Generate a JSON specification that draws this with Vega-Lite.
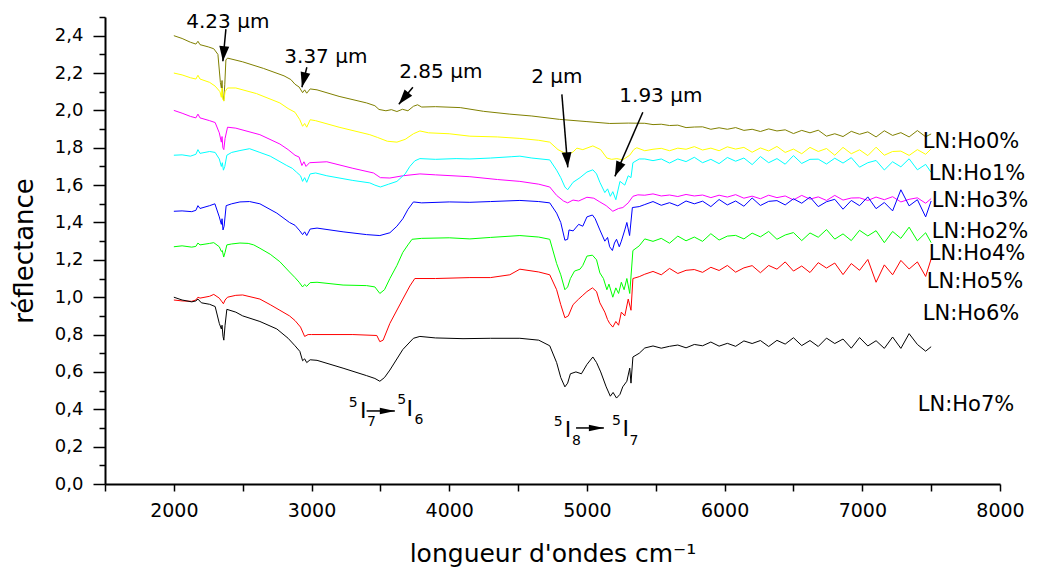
{
"$schema":"https://vega.github.io/schema/vega-lite/v6.json",
"width":895,"height":467,
"autosize":{"type":"none"},
"padding":{"left":105,"top":17,"right":46,"bottom":87},
"background":"white",
"config":{"view":{"stroke":null},"font":"DejaVu Sans","text":{"font":"DejaVu Sans","color":"black"},"axis":{"labelOverlap":false}},
"resolve":{"axis":{"y":"independent"}},
"datasets":{
"curves":[
{"c":"Ho0%","x":2000,"y":2.400},{"c":"Ho0%","x":2060,"y":2.385},{"c":"Ho0%","x":2120,"y":2.365},{"c":"Ho0%","x":2160,"y":2.355},{"c":"Ho0%","x":2175,"y":2.370},{"c":"Ho0%","x":2190,"y":2.352},{"c":"Ho0%","x":2250,"y":2.340},{"c":"Ho0%","x":2290,"y":2.330},{"c":"Ho0%","x":2320,"y":2.300},{"c":"Ho0%","x":2338,"y":2.150},{"c":"Ho0%","x":2345,"y":2.120},{"c":"Ho0%","x":2350,"y":2.160},{"c":"Ho0%","x":2355,"y":2.080},{"c":"Ho0%","x":2362,"y":2.050},{"c":"Ho0%","x":2370,"y":2.140},{"c":"Ho0%","x":2378,"y":2.270},{"c":"Ho0%","x":2390,"y":2.280},{"c":"Ho0%","x":2500,"y":2.260},{"c":"Ho0%","x":2650,"y":2.225},{"c":"Ho0%","x":2800,"y":2.185},{"c":"Ho0%","x":2850,"y":2.165},{"c":"Ho0%","x":2880,"y":2.140},{"c":"Ho0%","x":2910,"y":2.125},{"c":"Ho0%","x":2935,"y":2.095},{"c":"Ho0%","x":2950,"y":2.110},{"c":"Ho0%","x":2965,"y":2.092},{"c":"Ho0%","x":2990,"y":2.115},{"c":"Ho0%","x":3040,"y":2.110},{"c":"Ho0%","x":3200,"y":2.075},{"c":"Ho0%","x":3400,"y":2.040},{"c":"Ho0%","x":3460,"y":2.025},{"c":"Ho0%","x":3490,"y":2.005},{"c":"Ho0%","x":3540,"y":1.998},{"c":"Ho0%","x":3580,"y":2.004},{"c":"Ho0%","x":3620,"y":1.994},{"c":"Ho0%","x":3660,"y":2.006},{"c":"Ho0%","x":3700,"y":1.998},{"c":"Ho0%","x":3740,"y":2.022},{"c":"Ho0%","x":3770,"y":2.030},{"c":"Ho0%","x":3800,"y":2.018},{"c":"Ho0%","x":3900,"y":2.020},{"c":"Ho0%","x":4080,"y":2.015},{"c":"Ho0%","x":4250,"y":1.995},{"c":"Ho0%","x":4440,"y":1.980},{"c":"Ho0%","x":4600,"y":1.970},{"c":"Ho0%","x":4800,"y":1.952},{"c":"Ho0%","x":5000,"y":1.940},{"c":"Ho0%","x":5166,"y":1.930},{"c":"Ho0%","x":5300,"y":1.932},
{"c":"Ho0%","x":5420,"y":1.931},{"c":"Ho0%","x":5480,"y":1.924},{"c":"Ho0%","x":5540,"y":1.926},{"c":"Ho0%","x":5600,"y":1.919},{"c":"Ho0%","x":5660,"y":1.921},{"c":"Ho0%","x":5720,"y":1.908},{"c":"Ho0%","x":5780,"y":1.911},{"c":"Ho0%","x":5840,"y":1.912},{"c":"Ho0%","x":5900,"y":1.899},{"c":"Ho0%","x":5960,"y":1.907},{"c":"Ho0%","x":6020,"y":1.899},{"c":"Ho0%","x":6080,"y":1.908},{"c":"Ho0%","x":6140,"y":1.893},{"c":"Ho0%","x":6200,"y":1.899},{"c":"Ho0%","x":6260,"y":1.887},{"c":"Ho0%","x":6320,"y":1.901},{"c":"Ho0%","x":6380,"y":1.890},{"c":"Ho0%","x":6440,"y":1.896},{"c":"Ho0%","x":6500,"y":1.876},{"c":"Ho0%","x":6560,"y":1.893},{"c":"Ho0%","x":6620,"y":1.880},{"c":"Ho0%","x":6680,"y":1.894},{"c":"Ho0%","x":6740,"y":1.862},{"c":"Ho0%","x":6800,"y":1.875},{"c":"Ho0%","x":6860,"y":1.860},{"c":"Ho0%","x":6920,"y":1.888},{"c":"Ho0%","x":6980,"y":1.872},{"c":"Ho0%","x":7040,"y":1.885},{"c":"Ho0%","x":7100,"y":1.858},{"c":"Ho0%","x":7160,"y":1.891},{"c":"Ho0%","x":7220,"y":1.866},{"c":"Ho0%","x":7280,"y":1.881},{"c":"Ho0%","x":7340,"y":1.858},{"c":"Ho0%","x":7400,"y":1.892},{"c":"Ho0%","x":7460,"y":1.859},{"c":"Ho0%","x":7500,"y":1.874},
{"c":"Ho1%","x":2000,"y":2.200},{"c":"Ho1%","x":2060,"y":2.190},{"c":"Ho1%","x":2120,"y":2.175},{"c":"Ho1%","x":2160,"y":2.168},{"c":"Ho1%","x":2175,"y":2.188},{"c":"Ho1%","x":2190,"y":2.168},{"c":"Ho1%","x":2260,"y":2.150},{"c":"Ho1%","x":2300,"y":2.130},{"c":"Ho1%","x":2335,"y":2.100},{"c":"Ho1%","x":2345,"y":2.070},{"c":"Ho1%","x":2350,"y":2.120},{"c":"Ho1%","x":2356,"y":2.060},{"c":"Ho1%","x":2363,"y":2.050},{"c":"Ho1%","x":2372,"y":2.100},{"c":"Ho1%","x":2390,"y":2.120},{"c":"Ho1%","x":2450,"y":2.120},{"c":"Ho1%","x":2600,"y":2.090},{"c":"Ho1%","x":2770,"y":2.040},{"c":"Ho1%","x":2830,"y":2.010},{"c":"Ho1%","x":2880,"y":1.990},{"c":"Ho1%","x":2915,"y":1.950},{"c":"Ho1%","x":2935,"y":1.915},{"c":"Ho1%","x":2950,"y":1.930},{"c":"Ho1%","x":2965,"y":1.910},{"c":"Ho1%","x":2990,"y":1.950},{"c":"Ho1%","x":3030,"y":1.945},{"c":"Ho1%","x":3200,"y":1.910},{"c":"Ho1%","x":3423,"y":1.870},{"c":"Ho1%","x":3480,"y":1.855},{"c":"Ho1%","x":3550,"y":1.835},{"c":"Ho1%","x":3620,"y":1.830},{"c":"Ho1%","x":3680,"y":1.845},{"c":"Ho1%","x":3740,"y":1.875},{"c":"Ho1%","x":3787,"y":1.890},{"c":"Ho1%","x":3850,"y":1.880},{"c":"Ho1%","x":4000,"y":1.875},{"c":"Ho1%","x":4150,"y":1.862},{"c":"Ho1%","x":4350,"y":1.858},{"c":"Ho1%","x":4513,"y":1.850},{"c":"Ho1%","x":4650,"y":1.840},{"c":"Ho1%","x":4730,"y":1.830},{"c":"Ho1%","x":4790,"y":1.790},{"c":"Ho1%","x":4830,"y":1.775},{"c":"Ho1%","x":4870,"y":1.765},{"c":"Ho1%","x":4900,"y":1.778},{"c":"Ho1%","x":4927,"y":1.798},{"c":"Ho1%","x":4970,"y":1.790},{"c":"Ho1%","x":5043,"y":1.810},{"c":"Ho1%","x":5100,"y":1.790},{"c":"Ho1%","x":5145,"y":1.745},{"c":"Ho1%","x":5180,"y":1.738},{"c":"Ho1%","x":5217,"y":1.742},{"c":"Ho1%","x":5260,"y":1.735},{"c":"Ho1%","x":5311,"y":1.760},{"c":"Ho1%","x":5340,"y":1.790},{"c":"Ho1%","x":5362,"y":1.800},
{"c":"Ho1%","x":5420,"y":1.784},{"c":"Ho1%","x":5480,"y":1.792},{"c":"Ho1%","x":5540,"y":1.797},{"c":"Ho1%","x":5600,"y":1.784},{"c":"Ho1%","x":5660,"y":1.798},{"c":"Ho1%","x":5720,"y":1.792},{"c":"Ho1%","x":5780,"y":1.806},{"c":"Ho1%","x":5840,"y":1.788},{"c":"Ho1%","x":5900,"y":1.798},{"c":"Ho1%","x":5960,"y":1.784},{"c":"Ho1%","x":6020,"y":1.805},{"c":"Ho1%","x":6080,"y":1.793},{"c":"Ho1%","x":6140,"y":1.802},{"c":"Ho1%","x":6200,"y":1.776},{"c":"Ho1%","x":6260,"y":1.799},{"c":"Ho1%","x":6320,"y":1.783},{"c":"Ho1%","x":6380,"y":1.807},{"c":"Ho1%","x":6440,"y":1.775},{"c":"Ho1%","x":6500,"y":1.793},{"c":"Ho1%","x":6560,"y":1.768},{"c":"Ho1%","x":6620,"y":1.802},{"c":"Ho1%","x":6680,"y":1.780},{"c":"Ho1%","x":6740,"y":1.796},{"c":"Ho1%","x":6800,"y":1.760},{"c":"Ho1%","x":6860,"y":1.802},{"c":"Ho1%","x":6920,"y":1.768},{"c":"Ho1%","x":6980,"y":1.789},{"c":"Ho1%","x":7040,"y":1.758},{"c":"Ho1%","x":7100,"y":1.803},{"c":"Ho1%","x":7160,"y":1.760},{"c":"Ho1%","x":7220,"y":1.780},{"c":"Ho1%","x":7280,"y":1.782},{"c":"Ho1%","x":7340,"y":1.759},{"c":"Ho1%","x":7400,"y":1.790},{"c":"Ho1%","x":7460,"y":1.765},{"c":"Ho1%","x":7500,"y":1.794},
{"c":"Ho2%","x":2000,"y":2.000},{"c":"Ho2%","x":2060,"y":1.985},{"c":"Ho2%","x":2120,"y":1.968},{"c":"Ho2%","x":2160,"y":1.960},{"c":"Ho2%","x":2175,"y":1.980},{"c":"Ho2%","x":2190,"y":1.960},{"c":"Ho2%","x":2260,"y":1.945},{"c":"Ho2%","x":2300,"y":1.935},{"c":"Ho2%","x":2330,"y":1.880},{"c":"Ho2%","x":2345,"y":1.830},{"c":"Ho2%","x":2350,"y":1.860},{"c":"Ho2%","x":2356,"y":1.800},{"c":"Ho2%","x":2363,"y":1.790},{"c":"Ho2%","x":2372,"y":1.850},{"c":"Ho2%","x":2390,"y":1.910},{"c":"Ho2%","x":2450,"y":1.905},{"c":"Ho2%","x":2625,"y":1.870},{"c":"Ho2%","x":2770,"y":1.820},{"c":"Ho2%","x":2830,"y":1.790},{"c":"Ho2%","x":2880,"y":1.760},{"c":"Ho2%","x":2910,"y":1.750},{"c":"Ho2%","x":2930,"y":1.705},{"c":"Ho2%","x":2945,"y":1.725},{"c":"Ho2%","x":2960,"y":1.700},{"c":"Ho2%","x":2985,"y":1.720},{"c":"Ho2%","x":3111,"y":1.725},{"c":"Ho2%","x":3300,"y":1.690},{"c":"Ho2%","x":3450,"y":1.665},{"c":"Ho2%","x":3500,"y":1.640},{"c":"Ho2%","x":3569,"y":1.638},{"c":"Ho2%","x":3663,"y":1.650},{"c":"Ho2%","x":3787,"y":1.660},{"c":"Ho2%","x":3900,"y":1.655},{"c":"Ho2%","x":4150,"y":1.645},{"c":"Ho2%","x":4350,"y":1.630},{"c":"Ho2%","x":4513,"y":1.620},{"c":"Ho2%","x":4650,"y":1.605},{"c":"Ho2%","x":4730,"y":1.590},{"c":"Ho2%","x":4780,"y":1.545},{"c":"Ho2%","x":4830,"y":1.515},{"c":"Ho2%","x":4860,"y":1.505},{"c":"Ho2%","x":4899,"y":1.520},{"c":"Ho2%","x":4940,"y":1.515},{"c":"Ho2%","x":5000,"y":1.535},{"c":"Ho2%","x":5050,"y":1.530},{"c":"Ho2%","x":5094,"y":1.510},{"c":"Ho2%","x":5140,"y":1.490},{"c":"Ho2%","x":5188,"y":1.460},{"c":"Ho2%","x":5230,"y":1.475},{"c":"Ho2%","x":5261,"y":1.480},{"c":"Ho2%","x":5300,"y":1.505},{"c":"Ho2%","x":5334,"y":1.540},{"c":"Ho2%","x":5370,"y":1.548},
{"c":"Ho2%","x":5420,"y":1.546},{"c":"Ho2%","x":5480,"y":1.553},{"c":"Ho2%","x":5540,"y":1.542},{"c":"Ho2%","x":5600,"y":1.547},{"c":"Ho2%","x":5660,"y":1.539},{"c":"Ho2%","x":5720,"y":1.550},{"c":"Ho2%","x":5780,"y":1.542},{"c":"Ho2%","x":5840,"y":1.547},{"c":"Ho2%","x":5900,"y":1.533},{"c":"Ho2%","x":5960,"y":1.546},{"c":"Ho2%","x":6020,"y":1.536},{"c":"Ho2%","x":6080,"y":1.549},{"c":"Ho2%","x":6140,"y":1.530},{"c":"Ho2%","x":6200,"y":1.541},{"c":"Ho2%","x":6260,"y":1.527},{"c":"Ho2%","x":6320,"y":1.546},{"c":"Ho2%","x":6380,"y":1.533},{"c":"Ho2%","x":6440,"y":1.542},{"c":"Ho2%","x":6500,"y":1.521},{"c":"Ho2%","x":6560,"y":1.545},{"c":"Ho2%","x":6620,"y":1.525},{"c":"Ho2%","x":6680,"y":1.537},{"c":"Ho2%","x":6740,"y":1.518},{"c":"Ho2%","x":6800,"y":1.545},{"c":"Ho2%","x":6860,"y":1.520},{"c":"Ho2%","x":6920,"y":1.531},{"c":"Ho2%","x":6980,"y":1.532},{"c":"Ho2%","x":7040,"y":1.518},{"c":"Ho2%","x":7100,"y":1.536},{"c":"Ho2%","x":7160,"y":1.522},{"c":"Ho2%","x":7220,"y":1.538},{"c":"Ho2%","x":7280,"y":1.510},{"c":"Ho2%","x":7340,"y":1.524},{"c":"Ho2%","x":7400,"y":1.532},{"c":"Ho2%","x":7460,"y":1.503},{"c":"Ho2%","x":7500,"y":1.528},
{"c":"Ho3%","x":2000,"y":1.760},{"c":"Ho3%","x":2060,"y":1.762},{"c":"Ho3%","x":2120,"y":1.755},{"c":"Ho3%","x":2160,"y":1.765},{"c":"Ho3%","x":2175,"y":1.790},{"c":"Ho3%","x":2190,"y":1.770},{"c":"Ho3%","x":2260,"y":1.780},{"c":"Ho3%","x":2300,"y":1.775},{"c":"Ho3%","x":2330,"y":1.740},{"c":"Ho3%","x":2345,"y":1.700},{"c":"Ho3%","x":2352,"y":1.720},{"c":"Ho3%","x":2360,"y":1.680},{"c":"Ho3%","x":2370,"y":1.700},{"c":"Ho3%","x":2385,"y":1.760},{"c":"Ho3%","x":2420,"y":1.775},{"c":"Ho3%","x":2480,"y":1.785},{"c":"Ho3%","x":2550,"y":1.795},{"c":"Ho3%","x":2625,"y":1.775},{"c":"Ho3%","x":2700,"y":1.755},{"c":"Ho3%","x":2820,"y":1.705},{"c":"Ho3%","x":2860,"y":1.690},{"c":"Ho3%","x":2890,"y":1.670},{"c":"Ho3%","x":2920,"y":1.650},{"c":"Ho3%","x":2935,"y":1.620},{"c":"Ho3%","x":2950,"y":1.640},{"c":"Ho3%","x":2965,"y":1.615},{"c":"Ho3%","x":2990,"y":1.660},{"c":"Ho3%","x":3030,"y":1.665},{"c":"Ho3%","x":3111,"y":1.650},{"c":"Ho3%","x":3300,"y":1.625},{"c":"Ho3%","x":3423,"y":1.612},{"c":"Ho3%","x":3460,"y":1.600},{"c":"Ho3%","x":3500,"y":1.590},{"c":"Ho3%","x":3560,"y":1.605},{"c":"Ho3%","x":3620,"y":1.620},{"c":"Ho3%","x":3680,"y":1.660},{"c":"Ho3%","x":3714,"y":1.700},{"c":"Ho3%","x":3750,"y":1.730},{"c":"Ho3%","x":3787,"y":1.742},{"c":"Ho3%","x":3900,"y":1.738},{"c":"Ho3%","x":4050,"y":1.742},{"c":"Ho3%","x":4150,"y":1.740},{"c":"Ho3%","x":4300,"y":1.745},{"c":"Ho3%","x":4450,"y":1.752},{"c":"Ho3%","x":4513,"y":1.755},{"c":"Ho3%","x":4600,"y":1.745},{"c":"Ho3%","x":4730,"y":1.735},{"c":"Ho3%","x":4780,"y":1.680},{"c":"Ho3%","x":4810,"y":1.640},{"c":"Ho3%","x":4840,"y":1.590},{"c":"Ho3%","x":4860,"y":1.575},{"c":"Ho3%","x":4899,"y":1.615},{"c":"Ho3%","x":4950,"y":1.640},{"c":"Ho3%","x":5000,"y":1.670},{"c":"Ho3%","x":5043,"y":1.682},{"c":"Ho3%","x":5070,"y":1.660},{"c":"Ho3%","x":5094,"y":1.615},{"c":"Ho3%","x":5130,"y":1.560},{"c":"Ho3%","x":5150,"y":1.580},{"c":"Ho3%","x":5170,"y":1.540},{"c":"Ho3%","x":5188,"y":1.565},{"c":"Ho3%","x":5210,"y":1.522},{"c":"Ho3%","x":5240,"y":1.620},{"c":"Ho3%","x":5275,"y":1.600},{"c":"Ho3%","x":5300,"y":1.650},{"c":"Ho3%","x":5320,"y":1.640},{"c":"Ho3%","x":5334,"y":1.720},{"c":"Ho3%","x":5380,"y":1.740},
{"c":"Ho3%","x":5420,"y":1.740},{"c":"Ho3%","x":5480,"y":1.731},{"c":"Ho3%","x":5540,"y":1.740},{"c":"Ho3%","x":5600,"y":1.718},{"c":"Ho3%","x":5660,"y":1.740},{"c":"Ho3%","x":5720,"y":1.726},{"c":"Ho3%","x":5780,"y":1.749},{"c":"Ho3%","x":5840,"y":1.720},{"c":"Ho3%","x":5900,"y":1.738},{"c":"Ho3%","x":5960,"y":1.715},{"c":"Ho3%","x":6020,"y":1.748},{"c":"Ho3%","x":6080,"y":1.728},{"c":"Ho3%","x":6140,"y":1.745},{"c":"Ho3%","x":6200,"y":1.710},{"c":"Ho3%","x":6260,"y":1.753},{"c":"Ho3%","x":6320,"y":1.720},{"c":"Ho3%","x":6380,"y":1.742},{"c":"Ho3%","x":6440,"y":1.712},{"c":"Ho3%","x":6500,"y":1.758},{"c":"Ho3%","x":6560,"y":1.716},{"c":"Ho3%","x":6620,"y":1.738},{"c":"Ho3%","x":6680,"y":1.739},{"c":"Ho3%","x":6740,"y":1.713},{"c":"Ho3%","x":6800,"y":1.744},{"c":"Ho3%","x":6860,"y":1.718},{"c":"Ho3%","x":6920,"y":1.747},{"c":"Ho3%","x":6980,"y":1.696},{"c":"Ho3%","x":7040,"y":1.720},{"c":"Ho3%","x":7100,"y":1.732},{"c":"Ho3%","x":7160,"y":1.681},{"c":"Ho3%","x":7220,"y":1.725},{"c":"Ho3%","x":7280,"y":1.698},{"c":"Ho3%","x":7340,"y":1.741},{"c":"Ho3%","x":7400,"y":1.682},{"c":"Ho3%","x":7460,"y":1.711},{"c":"Ho3%","x":7500,"y":1.668},
{"c":"Ho4%","x":2000,"y":1.460},{"c":"Ho4%","x":2060,"y":1.462},{"c":"Ho4%","x":2130,"y":1.458},{"c":"Ho4%","x":2160,"y":1.465},{"c":"Ho4%","x":2175,"y":1.490},{"c":"Ho4%","x":2190,"y":1.475},{"c":"Ho4%","x":2260,"y":1.490},{"c":"Ho4%","x":2298,"y":1.500},{"c":"Ho4%","x":2330,"y":1.430},{"c":"Ho4%","x":2345,"y":1.390},{"c":"Ho4%","x":2350,"y":1.420},{"c":"Ho4%","x":2357,"y":1.360},{"c":"Ho4%","x":2365,"y":1.380},{"c":"Ho4%","x":2380,"y":1.490},{"c":"Ho4%","x":2420,"y":1.500},{"c":"Ho4%","x":2480,"y":1.510},{"c":"Ho4%","x":2550,"y":1.512},{"c":"Ho4%","x":2625,"y":1.500},{"c":"Ho4%","x":2748,"y":1.450},{"c":"Ho4%","x":2840,"y":1.400},{"c":"Ho4%","x":2880,"y":1.385},{"c":"Ho4%","x":2915,"y":1.355},{"c":"Ho4%","x":2935,"y":1.335},{"c":"Ho4%","x":2950,"y":1.350},{"c":"Ho4%","x":2965,"y":1.330},{"c":"Ho4%","x":2990,"y":1.365},{"c":"Ho4%","x":3040,"y":1.370},{"c":"Ho4%","x":3229,"y":1.350},{"c":"Ho4%","x":3400,"y":1.335},{"c":"Ho4%","x":3496,"y":1.330},{"c":"Ho4%","x":3569,"y":1.345},{"c":"Ho4%","x":3620,"y":1.380},{"c":"Ho4%","x":3663,"y":1.420},{"c":"Ho4%","x":3700,"y":1.470},{"c":"Ho4%","x":3740,"y":1.510},{"c":"Ho4%","x":3800,"y":1.505},{"c":"Ho4%","x":4000,"y":1.510},{"c":"Ho4%","x":4150,"y":1.508},{"c":"Ho4%","x":4300,"y":1.512},{"c":"Ho4%","x":4513,"y":1.518},{"c":"Ho4%","x":4650,"y":1.512},{"c":"Ho4%","x":4730,"y":1.505},{"c":"Ho4%","x":4780,"y":1.450},{"c":"Ho4%","x":4810,"y":1.400},{"c":"Ho4%","x":4840,"y":1.305},{"c":"Ho4%","x":4860,"y":1.310},{"c":"Ho4%","x":4870,"y":1.360},{"c":"Ho4%","x":4900,"y":1.355},{"c":"Ho4%","x":4940,"y":1.390},{"c":"Ho4%","x":4970,"y":1.380},{"c":"Ho4%","x":5000,"y":1.430},{"c":"Ho4%","x":5040,"y":1.440},{"c":"Ho4%","x":5060,"y":1.420},{"c":"Ho4%","x":5094,"y":1.360},{"c":"Ho4%","x":5130,"y":1.300},{"c":"Ho4%","x":5150,"y":1.320},{"c":"Ho4%","x":5165,"y":1.270},{"c":"Ho4%","x":5185,"y":1.250},{"c":"Ho4%","x":5200,"y":1.290},{"c":"Ho4%","x":5215,"y":1.310},{"c":"Ho4%","x":5235,"y":1.270},{"c":"Ho4%","x":5250,"y":1.300},{"c":"Ho4%","x":5275,"y":1.360},{"c":"Ho4%","x":5290,"y":1.400},{"c":"Ho4%","x":5310,"y":1.330},{"c":"Ho4%","x":5330,"y":1.480},{"c":"Ho4%","x":5380,"y":1.485},
{"c":"Ho4%","x":5420,"y":1.496},{"c":"Ho4%","x":5480,"y":1.512},{"c":"Ho4%","x":5540,"y":1.492},{"c":"Ho4%","x":5600,"y":1.506},{"c":"Ho4%","x":5660,"y":1.489},{"c":"Ho4%","x":5720,"y":1.515},{"c":"Ho4%","x":5780,"y":1.500},{"c":"Ho4%","x":5840,"y":1.514},{"c":"Ho4%","x":5900,"y":1.485},{"c":"Ho4%","x":5960,"y":1.523},{"c":"Ho4%","x":6020,"y":1.494},{"c":"Ho4%","x":6080,"y":1.515},{"c":"Ho4%","x":6140,"y":1.487},{"c":"Ho4%","x":6200,"y":1.531},{"c":"Ho4%","x":6260,"y":1.491},{"c":"Ho4%","x":6320,"y":1.513},{"c":"Ho4%","x":6380,"y":1.517},{"c":"Ho4%","x":6440,"y":1.494},{"c":"Ho4%","x":6500,"y":1.527},{"c":"Ho4%","x":6560,"y":1.503},{"c":"Ho4%","x":6620,"y":1.536},{"c":"Ho4%","x":6680,"y":1.485},{"c":"Ho4%","x":6740,"y":1.511},{"c":"Ho4%","x":6800,"y":1.524},{"c":"Ho4%","x":6860,"y":1.471},{"c":"Ho4%","x":6920,"y":1.518},{"c":"Ho4%","x":6980,"y":1.490},{"c":"Ho4%","x":7040,"y":1.537},{"c":"Ho4%","x":7100,"y":1.474},{"c":"Ho4%","x":7160,"y":1.507},{"c":"Ho4%","x":7220,"y":1.462},{"c":"Ho4%","x":7280,"y":1.575},{"c":"Ho4%","x":7340,"y":1.489},{"c":"Ho4%","x":7400,"y":1.522},{"c":"Ho4%","x":7460,"y":1.430},{"c":"Ho4%","x":7500,"y":1.515},
{"c":"Ho5%","x":2000,"y":1.270},{"c":"Ho5%","x":2060,"y":1.275},{"c":"Ho5%","x":2130,"y":1.268},{"c":"Ho5%","x":2160,"y":1.272},{"c":"Ho5%","x":2175,"y":1.290},{"c":"Ho5%","x":2190,"y":1.280},{"c":"Ho5%","x":2260,"y":1.288},{"c":"Ho5%","x":2290,"y":1.292},{"c":"Ho5%","x":2330,"y":1.270},{"c":"Ho5%","x":2345,"y":1.245},{"c":"Ho5%","x":2352,"y":1.250},{"c":"Ho5%","x":2362,"y":1.215},{"c":"Ho5%","x":2372,"y":1.240},{"c":"Ho5%","x":2385,"y":1.280},{"c":"Ho5%","x":2420,"y":1.285},{"c":"Ho5%","x":2480,"y":1.290},{"c":"Ho5%","x":2540,"y":1.288},{"c":"Ho5%","x":2580,"y":1.280},{"c":"Ho5%","x":2625,"y":1.262},{"c":"Ho5%","x":2700,"y":1.230},{"c":"Ho5%","x":2770,"y":1.190},{"c":"Ho5%","x":2840,"y":1.135},{"c":"Ho5%","x":2880,"y":1.105},{"c":"Ho5%","x":2910,"y":1.080},{"c":"Ho5%","x":2935,"y":1.055},{"c":"Ho5%","x":2950,"y":1.068},{"c":"Ho5%","x":2965,"y":1.058},{"c":"Ho5%","x":2990,"y":1.078},{"c":"Ho5%","x":3040,"y":1.080},{"c":"Ho5%","x":3229,"y":1.065},{"c":"Ho5%","x":3400,"y":1.062},{"c":"Ho5%","x":3460,"y":1.055},{"c":"Ho5%","x":3496,"y":1.020},{"c":"Ho5%","x":3530,"y":1.040},{"c":"Ho5%","x":3569,"y":1.100},{"c":"Ho5%","x":3620,"y":1.170},{"c":"Ho5%","x":3663,"y":1.240},{"c":"Ho5%","x":3700,"y":1.280},{"c":"Ho5%","x":3730,"y":1.310},{"c":"Ho5%","x":3800,"y":1.315},{"c":"Ho5%","x":4000,"y":1.318},{"c":"Ho5%","x":4150,"y":1.312},{"c":"Ho5%","x":4300,"y":1.320},{"c":"Ho5%","x":4513,"y":1.330},{"c":"Ho5%","x":4650,"y":1.322},{"c":"Ho5%","x":4730,"y":1.310},{"c":"Ho5%","x":4780,"y":1.180},{"c":"Ho5%","x":4810,"y":1.120},{"c":"Ho5%","x":4840,"y":1.040},{"c":"Ho5%","x":4860,"y":1.055},{"c":"Ho5%","x":4880,"y":1.100},{"c":"Ho5%","x":4910,"y":1.140},{"c":"Ho5%","x":4950,"y":1.150},{"c":"Ho5%","x":4970,"y":1.170},{"c":"Ho5%","x":5000,"y":1.220},{"c":"Ho5%","x":5040,"y":1.225},{"c":"Ho5%","x":5070,"y":1.200},{"c":"Ho5%","x":5094,"y":1.130},{"c":"Ho5%","x":5120,"y":1.100},{"c":"Ho5%","x":5145,"y":1.040},{"c":"Ho5%","x":5160,"y":1.070},{"c":"Ho5%","x":5188,"y":1.000},{"c":"Ho5%","x":5210,"y":1.050},{"c":"Ho5%","x":5230,"y":1.020},{"c":"Ho5%","x":5250,"y":1.080},{"c":"Ho5%","x":5270,"y":1.040},{"c":"Ho5%","x":5290,"y":1.100},{"c":"Ho5%","x":5311,"y":1.020},{"c":"Ho5%","x":5334,"y":1.250},{"c":"Ho5%","x":5380,"y":1.275},
{"c":"Ho5%","x":5420,"y":1.312},{"c":"Ho5%","x":5480,"y":1.299},{"c":"Ho5%","x":5540,"y":1.315},{"c":"Ho5%","x":5600,"y":1.289},{"c":"Ho5%","x":5660,"y":1.327},{"c":"Ho5%","x":5720,"y":1.302},{"c":"Ho5%","x":5780,"y":1.322},{"c":"Ho5%","x":5840,"y":1.299},{"c":"Ho5%","x":5900,"y":1.340},{"c":"Ho5%","x":5960,"y":1.306},{"c":"Ho5%","x":6020,"y":1.327},{"c":"Ho5%","x":6080,"y":1.331},{"c":"Ho5%","x":6140,"y":1.312},{"c":"Ho5%","x":6200,"y":1.343},{"c":"Ho5%","x":6260,"y":1.323},{"c":"Ho5%","x":6320,"y":1.352},{"c":"Ho5%","x":6380,"y":1.310},{"c":"Ho5%","x":6440,"y":1.333},{"c":"Ho5%","x":6500,"y":1.346},{"c":"Ho5%","x":6560,"y":1.303},{"c":"Ho5%","x":6620,"y":1.344},{"c":"Ho5%","x":6680,"y":1.321},{"c":"Ho5%","x":6740,"y":1.362},{"c":"Ho5%","x":6800,"y":1.311},{"c":"Ho5%","x":6860,"y":1.339},{"c":"Ho5%","x":6920,"y":1.303},{"c":"Ho5%","x":6980,"y":1.358},{"c":"Ho5%","x":7040,"y":1.328},{"c":"Ho5%","x":7100,"y":1.356},{"c":"Ho5%","x":7160,"y":1.292},{"c":"Ho5%","x":7220,"y":1.352},{"c":"Ho5%","x":7280,"y":1.315},{"c":"Ho5%","x":7340,"y":1.375},{"c":"Ho5%","x":7400,"y":1.302},{"c":"Ho5%","x":7460,"y":1.345},{"c":"Ho5%","x":7500,"y":1.292},
{"c":"Ho6%","x":2000,"y":0.985},{"c":"Ho6%","x":2060,"y":0.980},{"c":"Ho6%","x":2130,"y":0.978},{"c":"Ho6%","x":2160,"y":0.985},{"c":"Ho6%","x":2175,"y":1.000},{"c":"Ho6%","x":2190,"y":0.995},{"c":"Ho6%","x":2260,"y":1.005},{"c":"Ho6%","x":2290,"y":1.015},{"c":"Ho6%","x":2330,"y":0.995},{"c":"Ho6%","x":2350,"y":0.975},{"c":"Ho6%","x":2360,"y":0.965},{"c":"Ho6%","x":2372,"y":0.985},{"c":"Ho6%","x":2390,"y":1.000},{"c":"Ho6%","x":2450,"y":1.010},{"c":"Ho6%","x":2500,"y":1.012},{"c":"Ho6%","x":2625,"y":0.990},{"c":"Ho6%","x":2700,"y":0.960},{"c":"Ho6%","x":2770,"y":0.930},{"c":"Ho6%","x":2840,"y":0.900},{"c":"Ho6%","x":2880,"y":0.875},{"c":"Ho6%","x":2920,"y":0.840},{"c":"Ho6%","x":2950,"y":0.790},{"c":"Ho6%","x":2975,"y":0.800},{"c":"Ho6%","x":3000,"y":0.800},{"c":"Ho6%","x":3300,"y":0.800},{"c":"Ho6%","x":3474,"y":0.795},{"c":"Ho6%","x":3496,"y":0.762},{"c":"Ho6%","x":3520,"y":0.770},{"c":"Ho6%","x":3569,"y":0.860},{"c":"Ho6%","x":3663,"y":0.990},{"c":"Ho6%","x":3714,"y":1.060},{"c":"Ho6%","x":3750,"y":1.100},{"c":"Ho6%","x":3900,"y":1.100},{"c":"Ho6%","x":4150,"y":1.105},{"c":"Ho6%","x":4300,"y":1.105},{"c":"Ho6%","x":4440,"y":1.120},{"c":"Ho6%","x":4513,"y":1.150},{"c":"Ho6%","x":4650,"y":1.135},{"c":"Ho6%","x":4730,"y":1.120},{"c":"Ho6%","x":4780,"y":1.040},{"c":"Ho6%","x":4810,"y":0.960},{"c":"Ho6%","x":4840,"y":0.890},{"c":"Ho6%","x":4865,"y":0.900},{"c":"Ho6%","x":4899,"y":0.960},{"c":"Ho6%","x":4940,"y":0.990},{"c":"Ho6%","x":4970,"y":1.010},{"c":"Ho6%","x":5000,"y":1.030},{"c":"Ho6%","x":5040,"y":1.050},{"c":"Ho6%","x":5070,"y":1.030},{"c":"Ho6%","x":5094,"y":0.970},{"c":"Ho6%","x":5130,"y":0.920},{"c":"Ho6%","x":5150,"y":0.880},{"c":"Ho6%","x":5165,"y":0.860},{"c":"Ho6%","x":5188,"y":0.840},{"c":"Ho6%","x":5210,"y":0.870},{"c":"Ho6%","x":5230,"y":0.850},{"c":"Ho6%","x":5250,"y":0.920},{"c":"Ho6%","x":5275,"y":0.900},{"c":"Ho6%","x":5300,"y":0.990},{"c":"Ho6%","x":5320,"y":0.930},{"c":"Ho6%","x":5334,"y":1.100},{"c":"Ho6%","x":5380,"y":1.110},
{"c":"Ho6%","x":5420,"y":1.123},{"c":"Ho6%","x":5480,"y":1.138},{"c":"Ho6%","x":5540,"y":1.120},{"c":"Ho6%","x":5600,"y":1.154},{"c":"Ho6%","x":5660,"y":1.127},{"c":"Ho6%","x":5720,"y":1.144},{"c":"Ho6%","x":5780,"y":1.148},{"c":"Ho6%","x":5840,"y":1.133},{"c":"Ho6%","x":5900,"y":1.160},{"c":"Ho6%","x":5960,"y":1.143},{"c":"Ho6%","x":6020,"y":1.170},{"c":"Ho6%","x":6080,"y":1.134},{"c":"Ho6%","x":6140,"y":1.157},{"c":"Ho6%","x":6200,"y":1.169},{"c":"Ho6%","x":6260,"y":1.131},{"c":"Ho6%","x":6320,"y":1.170},{"c":"Ho6%","x":6380,"y":1.150},{"c":"Ho6%","x":6440,"y":1.189},{"c":"Ho6%","x":6500,"y":1.140},{"c":"Ho6%","x":6560,"y":1.167},{"c":"Ho6%","x":6620,"y":1.132},{"c":"Ho6%","x":6680,"y":1.185},{"c":"Ho6%","x":6740,"y":1.156},{"c":"Ho6%","x":6800,"y":1.183},{"c":"Ho6%","x":6860,"y":1.121},{"c":"Ho6%","x":6920,"y":1.180},{"c":"Ho6%","x":6980,"y":1.144},{"c":"Ho6%","x":7040,"y":1.202},{"c":"Ho6%","x":7100,"y":1.080},{"c":"Ho6%","x":7160,"y":1.173},{"c":"Ho6%","x":7220,"y":1.120},{"c":"Ho6%","x":7280,"y":1.197},{"c":"Ho6%","x":7340,"y":1.151},{"c":"Ho6%","x":7400,"y":1.189},{"c":"Ho6%","x":7460,"y":1.111},{"c":"Ho6%","x":7500,"y":1.205},
{"c":"Ho7%","x":2000,"y":1.000},{"c":"Ho7%","x":2060,"y":0.985},{"c":"Ho7%","x":2130,"y":0.975},{"c":"Ho7%","x":2160,"y":0.980},{"c":"Ho7%","x":2175,"y":0.990},{"c":"Ho7%","x":2200,"y":0.970},{"c":"Ho7%","x":2260,"y":0.962},{"c":"Ho7%","x":2300,"y":0.950},{"c":"Ho7%","x":2330,"y":0.860},{"c":"Ho7%","x":2345,"y":0.830},{"c":"Ho7%","x":2350,"y":0.850},{"c":"Ho7%","x":2357,"y":0.790},{"c":"Ho7%","x":2363,"y":0.770},{"c":"Ho7%","x":2372,"y":0.850},{"c":"Ho7%","x":2385,"y":0.935},{"c":"Ho7%","x":2450,"y":0.920},{"c":"Ho7%","x":2500,"y":0.900},{"c":"Ho7%","x":2625,"y":0.870},{"c":"Ho7%","x":2748,"y":0.830},{"c":"Ho7%","x":2830,"y":0.780},{"c":"Ho7%","x":2880,"y":0.740},{"c":"Ho7%","x":2915,"y":0.710},{"c":"Ho7%","x":2935,"y":0.660},{"c":"Ho7%","x":2950,"y":0.670},{"c":"Ho7%","x":2965,"y":0.650},{"c":"Ho7%","x":2990,"y":0.665},{"c":"Ho7%","x":3040,"y":0.662},{"c":"Ho7%","x":3229,"y":0.620},{"c":"Ho7%","x":3400,"y":0.580},{"c":"Ho7%","x":3460,"y":0.565},{"c":"Ho7%","x":3496,"y":0.550},{"c":"Ho7%","x":3530,"y":0.570},{"c":"Ho7%","x":3569,"y":0.610},{"c":"Ho7%","x":3663,"y":0.720},{"c":"Ho7%","x":3740,"y":0.780},{"c":"Ho7%","x":3787,"y":0.790},{"c":"Ho7%","x":3900,"y":0.782},{"c":"Ho7%","x":4100,"y":0.778},{"c":"Ho7%","x":4300,"y":0.780},{"c":"Ho7%","x":4513,"y":0.780},{"c":"Ho7%","x":4650,"y":0.770},{"c":"Ho7%","x":4730,"y":0.740},{"c":"Ho7%","x":4780,"y":0.650},{"c":"Ho7%","x":4810,"y":0.570},{"c":"Ho7%","x":4840,"y":0.520},{"c":"Ho7%","x":4860,"y":0.540},{"c":"Ho7%","x":4880,"y":0.590},{"c":"Ho7%","x":4920,"y":0.600},{"c":"Ho7%","x":4960,"y":0.590},{"c":"Ho7%","x":5000,"y":0.640},{"c":"Ho7%","x":5043,"y":0.680},{"c":"Ho7%","x":5070,"y":0.650},{"c":"Ho7%","x":5100,"y":0.600},{"c":"Ho7%","x":5140,"y":0.520},{"c":"Ho7%","x":5170,"y":0.470},{"c":"Ho7%","x":5190,"y":0.490},{"c":"Ho7%","x":5215,"y":0.460},{"c":"Ho7%","x":5240,"y":0.480},{"c":"Ho7%","x":5260,"y":0.520},{"c":"Ho7%","x":5290,"y":0.550},{"c":"Ho7%","x":5311,"y":0.620},{"c":"Ho7%","x":5320,"y":0.540},{"c":"Ho7%","x":5334,"y":0.680},{"c":"Ho7%","x":5380,"y":0.700},
{"c":"Ho7%","x":5420,"y":0.728},{"c":"Ho7%","x":5480,"y":0.739},{"c":"Ho7%","x":5540,"y":0.727},{"c":"Ho7%","x":5600,"y":0.737},{"c":"Ho7%","x":5660,"y":0.744},{"c":"Ho7%","x":5720,"y":0.729},{"c":"Ho7%","x":5780,"y":0.747},{"c":"Ho7%","x":5840,"y":0.740},{"c":"Ho7%","x":5900,"y":0.760},{"c":"Ho7%","x":5960,"y":0.738},{"c":"Ho7%","x":6020,"y":0.753},{"c":"Ho7%","x":6080,"y":0.737},{"c":"Ho7%","x":6140,"y":0.766},{"c":"Ho7%","x":6200,"y":0.752},{"c":"Ho7%","x":6260,"y":0.768},{"c":"Ho7%","x":6320,"y":0.736},{"c":"Ho7%","x":6380,"y":0.769},{"c":"Ho7%","x":6440,"y":0.749},{"c":"Ho7%","x":6500,"y":0.783},{"c":"Ho7%","x":6560,"y":0.741},{"c":"Ho7%","x":6620,"y":0.768},{"c":"Ho7%","x":6680,"y":0.736},{"c":"Ho7%","x":6740,"y":0.781},{"c":"Ho7%","x":6800,"y":0.752},{"c":"Ho7%","x":6860,"y":0.776},{"c":"Ho7%","x":6920,"y":0.727},{"c":"Ho7%","x":6980,"y":0.784},{"c":"Ho7%","x":7040,"y":0.739},{"c":"Ho7%","x":7100,"y":0.767},{"c":"Ho7%","x":7160,"y":0.726},{"c":"Ho7%","x":7220,"y":0.787},{"c":"Ho7%","x":7280,"y":0.726},{"c":"Ho7%","x":7340,"y":0.805},{"c":"Ho7%","x":7400,"y":0.747},{"c":"Ho7%","x":7460,"y":0.711},{"c":"Ho7%","x":7500,"y":0.735}
],
"shafts":[
{"id":"a1","x":2378,"y":2.435,"xe":2356,"ye":2.263},
{"id":"a2","x":2966,"y":2.231,"xe":2930,"ye":2.124},
{"id":"a3","x":3736,"y":2.124,"xe":3634,"ye":2.033},
{"id":"a4","x":4818,"y":2.086,"xe":4861,"ye":1.695},
{"id":"a5","x":5406,"y":1.990,"xe":5203,"ye":1.647},
{"id":"a6","x":3400,"y":0.391,"xe":3605,"ye":0.391},
{"id":"a7","x":4921,"y":0.300,"xe":5123,"ye":0.300}
],
"tips":[
{"id":"a1","x":2356,"y":2.263},
{"id":"a2","x":2930,"y":2.124},
{"id":"a3","x":3634,"y":2.033},
{"id":"a4","x":4861,"y":1.695},
{"id":"a5","x":5203,"y":1.647},
{"id":"a6","x":3605,"y":0.391},
{"id":"a7","x":5123,"y":0.300}
],
"peaks":[
{"t":"4.23 µm","x":2392,"y":2.472},
{"t":"3.37 µm","x":3104,"y":2.284},
{"t":"2.85 µm","x":3939,"y":2.204},
{"t":"2 µm","x":4781,"y":2.177},
{"t":"1.93 µm","x":5537,"y":2.075}
],
"labels":[
{"t":"LN:Ho0%","x":7439,"y":1.829},
{"t":"LN:Ho1%","x":7483,"y":1.658},
{"t":"LN:Ho3%","x":7505,"y":1.513},
{"t":"LN:Ho2%","x":7505,"y":1.347},
{"t":"LN:Ho4%","x":7483,"y":1.229},
{"t":"LN:Ho5%","x":7468,"y":1.079},
{"t":"LN:Ho6%","x":7439,"y":0.908},
{"t":"LN:Ho7%","x":7403,"y":0.425}
],
"levels":[
{"t":"I","x":3375,"y":0.391},
{"t":"I","x":3714,"y":0.400},
{"t":"I","x":4863,"y":0.289},
{"t":"I","x":5282,"y":0.295}
],
"indices":[
{"t":"5","x":3302,"y":0.434},
{"t":"7","x":3436,"y":0.330},
{"t":"5","x":3654,"y":0.448},
{"t":"6","x":3781,"y":0.341},
{"t":"5","x":4791,"y":0.330},
{"t":"8","x":4924,"y":0.228},
{"t":"5","x":5215,"y":0.335},
{"t":"7","x":5341,"y":0.228}
]
},
"layer":[
{"data":{"name":"curves"},
 "mark":{"type":"line","strokeWidth":1,"clip":false},
 "encoding":{
  "x":{"field":"x","type":"quantitative","scale":{"domain":[1500,8000],"nice":false,"zero":false},
   "axis":{"values":[1500,2000,2500,3000,3500,4000,4500,5000,5500,6000,6500,7000,7500,8000],"format":"d",
    "labelExpr":"datum.value % 1000 == 0 ? datum.label : ''","tickSize":7,"tickWidth":1.5,"tickColor":"black",
    "domainColor":"black","domainWidth":2,"grid":false,"labelFont":"DejaVu Sans","labelFontSize":19,"labelColor":"black",
    "labelPadding":10,"labelOverlap":false,"labelFlush":false,
    "title":"longueur d'ondes cm⁻¹","titleFont":"DejaVu Sans","titleFontSize":25,"titleFontWeight":"normal","titleColor":"black","titlePadding":21}},
  "y":{"field":"y","type":"quantitative","scale":{"domain":[0,2.5],"nice":false,"zero":false},
   "axis":{"orient":"left","values":[0,0.2,0.4,0.6,0.8,1,1.2,1.4,1.6,1.8,2,2.2,2.4],
    "labelExpr":"replace(format(datum.value, '.1f'), '.', ',')",
    "tickSize":12,"tickWidth":1.5,"tickColor":"black","domainColor":"black","domainWidth":2,"grid":false,
    "labelFont":"DejaVu Sans","labelFontSize":18,"labelColor":"black","labelPadding":10,"labelOverlap":false,"labelFlush":false,
    "title":"réflectance","titleFont":"DejaVu Sans","titleFontSize":26,"titleFontWeight":"normal","titleColor":"black","titlePadding":17}},
  "color":{"field":"c","type":"nominal","legend":null,
   "scale":{"domain":["Ho0%","Ho1%","Ho2%","Ho3%","Ho4%","Ho5%","Ho6%","Ho7%"],
    "range":["#808000","#FFFF00","#FF00FF","#00FFFF","#0000FF","#00FF00","#FF0000","#000000"]}}
 }},
{"data":{"name":"tips"},
 "mark":{"type":"point","opacity":0},
 "encoding":{
  "x":{"field":"x","type":"quantitative"},
  "y":{"field":"y","type":"quantitative",
   "axis":{"orient":"left","values":[0.1,0.3,0.5,0.7,0.9,1.1,1.3,1.5,1.7,1.9,2.1,2.3,2.5],"labels":false,"tickSize":6,"tickWidth":1.5,"tickColor":"black","domain":false,"grid":false,"title":null,"offset":0}}}},
{"data":{"name":"shafts"},
 "mark":{"type":"rule","color":"black","strokeWidth":1.5},
 "encoding":{
  "x":{"field":"x","type":"quantitative"},
  "y":{"field":"y","type":"quantitative","axis":null},
  "x2":{"field":"xe"},"y2":{"field":"ye"}}},
{"data":{"name":"tips"},"transform":[{"filter":"datum.id == 'a1'"}],
 "mark":{"type":"point","shape":"M0,0L0.33,1L-0.33,1Z","size":900,"filled":true,"color":"black","opacity":1,"strokeWidth":0,"angle":185.4},
 "encoding":{"x":{"field":"x","type":"quantitative"},"y":{"field":"y","type":"quantitative","axis":null}}},
{"data":{"name":"tips"},"transform":[{"filter":"datum.id == 'a2'"}],
 "mark":{"type":"point","shape":"M0,0L0.33,1L-0.33,1Z","size":900,"filled":true,"color":"black","opacity":1,"strokeWidth":0,"angle":193.9},
 "encoding":{"x":{"field":"x","type":"quantitative"},"y":{"field":"y","type":"quantitative","axis":null}}},
{"data":{"name":"tips"},"transform":[{"filter":"datum.id == 'a3'"}],
 "mark":{"type":"point","shape":"M0,0L0.33,1L-0.33,1Z","size":900,"filled":true,"color":"black","opacity":1,"strokeWidth":0,"angle":219.6},
 "encoding":{"x":{"field":"x","type":"quantitative"},"y":{"field":"y","type":"quantitative","axis":null}}},
{"data":{"name":"tips"},"transform":[{"filter":"datum.id == 'a4'"}],
 "mark":{"type":"point","shape":"M0,0L0.33,1L-0.33,1Z","size":900,"filled":true,"color":"black","opacity":1,"strokeWidth":0,"angle":175.4},
 "encoding":{"x":{"field":"x","type":"quantitative"},"y":{"field":"y","type":"quantitative","axis":null}}},
{"data":{"name":"tips"},"transform":[{"filter":"datum.id == 'a5'"}],
 "mark":{"type":"point","shape":"M0,0L0.33,1L-0.33,1Z","size":900,"filled":true,"color":"black","opacity":1,"strokeWidth":0,"angle":203.6},
 "encoding":{"x":{"field":"x","type":"quantitative"},"y":{"field":"y","type":"quantitative","axis":null}}},
{"data":{"name":"tips"},"transform":[{"filter":"datum.id == 'a6' || datum.id == 'a7'"}],
 "mark":{"type":"point","shape":"M0,0L0.22,1L-0.22,1Z","size":900,"filled":true,"color":"black","opacity":1,"strokeWidth":0,"angle":90},
 "encoding":{"x":{"field":"x","type":"quantitative"},"y":{"field":"y","type":"quantitative","axis":null}}},
{"data":{"name":"peaks"},
 "mark":{"type":"text","fontSize":20,"align":"center","baseline":"middle","font":"DejaVu Sans","color":"black"},
 "encoding":{"x":{"field":"x","type":"quantitative"},"y":{"field":"y","type":"quantitative","axis":null},"text":{"field":"t"}}},
{"data":{"name":"labels"},
 "mark":{"type":"text","fontSize":21,"align":"left","baseline":"middle","font":"DejaVu Sans","color":"black"},
 "encoding":{"x":{"field":"x","type":"quantitative"},"y":{"field":"y","type":"quantitative","axis":null},"text":{"field":"t"}}},
{"data":{"name":"levels"},
 "mark":{"type":"text","fontSize":22,"align":"center","baseline":"middle","font":"DejaVu Sans","color":"black"},
 "encoding":{"x":{"field":"x","type":"quantitative"},"y":{"field":"y","type":"quantitative","axis":null},"text":{"field":"t"}}},
{"data":{"name":"indices"},
 "mark":{"type":"text","fontSize":14,"align":"center","baseline":"middle","font":"DejaVu Sans","color":"black"},
 "encoding":{"x":{"field":"x","type":"quantitative"},"y":{"field":"y","type":"quantitative","axis":null},"text":{"field":"t"}}}
]
}
